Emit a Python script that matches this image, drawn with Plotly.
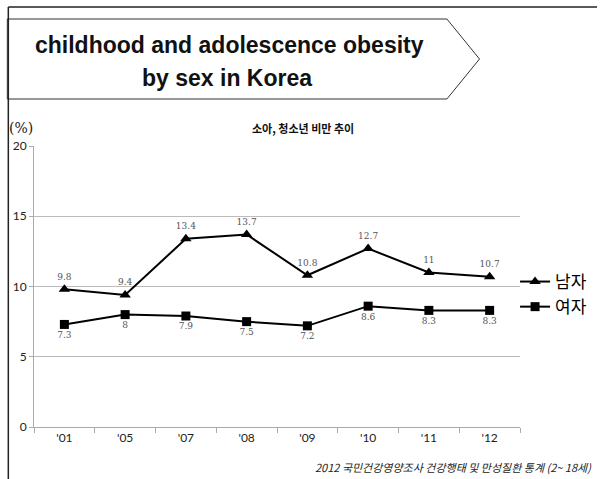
import plotly.graph_objects as go

years = ["'01", "'05", "'07", "'08", "'09", "'10", "'11", "'12"]
male = [9.8, 9.4, 13.4, 13.7, 10.8, 12.7, 11, 10.7]
female = [7.3, 8, 7.9, 7.5, 7.2, 8.6, 8.3, 8.3]
male_name = "남자"
female_name = "여자"
title_line1 = "childhood and adolescence obesity"
title_line2 = "by sex in Korea"
chart_title = "소아, 청소년 비만 추이"
unit_label = "(%)"
source_note = "2012 국민건강영양조사 건강행태 및 만성질환 통계 (2~ 18세)"

W, H = 604, 479
L, R, T, B = 34, 526, 146, 427


def px(x):
    return (x - L) / (R - L)


def py(y):
    return (B - y) / (B - T)


label_font = dict(family="DejaVu Serif, Liberation Serif, serif", size=9, color="#555555")

fig = go.Figure()
fig.add_trace(go.Scatter(
    x=years, y=male, name=male_name, mode="lines+markers+text",
    line=dict(color="black", width=2),
    marker=dict(symbol="triangle-up", size=10, color="black"),
    text=[str(v) for v in male], textposition="top center", textfont=label_font,
))
fig.add_trace(go.Scatter(
    x=years, y=female, name=female_name, mode="lines+markers+text",
    line=dict(color="black", width=2),
    marker=dict(symbol="square", size=9, color="black"),
    text=[str(v) for v in female], textposition="bottom center", textfont=label_font,
))

# title arrow box
path = "M {} {} L {} {} L {} {} L {} {} L {} {} Z".format(
    px(7), py(19), px(452), py(19), px(485), py(59), px(452), py(99), px(7), py(99))
shapes = [
    dict(type="path", xref="paper", yref="paper", path=path,
         line=dict(color="#333333", width=1), fillcolor="white", layer="below"),
    dict(type="line", xref="paper", yref="paper", x0=px(8), x1=px(8), y0=py(7), y1=py(479),
         line=dict(color="#222222", width=1.5)),
    dict(type="line", xref="paper", yref="paper", x0=px(8), x1=px(604), y0=py(7), y1=py(7),
         line=dict(color="#222222", width=1.5)),
]

annotations = [
    dict(text="<b>" + title_line1 + "</b>", xref="paper", yref="paper", x=px(232), y=py(45),
         xanchor="center", yanchor="middle", showarrow=False,
         font=dict(family="Liberation Sans, Arial, sans-serif", size=23, color="#111111")),
    dict(text="<b>" + title_line2 + "</b>", xref="paper", yref="paper", x=px(229), y=py(78),
         xanchor="center", yanchor="middle", showarrow=False,
         font=dict(family="Liberation Sans, Arial, sans-serif", size=23, color="#111111")),
    dict(text="<b>" + chart_title + "</b>", xref="paper", yref="paper", x=px(306), y=py(128),
         xanchor="center", yanchor="middle", showarrow=False,
         font=dict(family="Noto Sans CJK KR, sans-serif", size=11, color="#111111")),
    dict(text=unit_label, xref="paper", yref="paper", x=px(7), y=py(128),
         xanchor="left", yanchor="middle", showarrow=False,
         font=dict(family="DejaVu Serif, Liberation Serif, serif", size=14, color="#222222")),
    dict(text="<i>" + source_note + "</i>", xref="paper", yref="paper", x=px(601), y=py(467),
         xanchor="right", yanchor="middle", showarrow=False,
         font=dict(family="Noto Sans CJK KR, sans-serif", size=11, color="#222222")),
]

fig.update_layout(
    width=W, height=H,
    margin=dict(l=L, r=W - R, t=T, b=H - B),
    paper_bgcolor="white", plot_bgcolor="white",
    shapes=shapes, annotations=annotations,
    showlegend=True,
    legend=dict(x=px(521), y=py(264), xanchor="left", yanchor="top",
                font=dict(family="Noto Sans CJK KR, sans-serif", size=17, color="#000000"),
                bgcolor="rgba(0,0,0,0)", itemwidth=30, tracegroupgap=0),
    xaxis=dict(
        type="category", showgrid=False, showline=True, linecolor="#aaaaaa", linewidth=1,
        ticks="outside", tickson="boundaries", ticklen=5, tickcolor="#aaaaaa",
        tickfont=dict(family="Lato, Open Sans, sans-serif", size=12, color="#222222"),
        range=[-0.5, len(years) - 0.5],
    ),
    yaxis=dict(
        range=[0, 20], tickvals=[0, 5, 10, 15, 20], showgrid=True, gridcolor="#bbbbbb",
        gridwidth=1, showline=True, linecolor="#aaaaaa", linewidth=1, zeroline=False,
        ticks="outside", ticklen=4, tickcolor="#aaaaaa",
        tickfont=dict(family="Lato, Open Sans, sans-serif", size=12, color="#222222"),
    ),
)

fig.write_html("out.html")
